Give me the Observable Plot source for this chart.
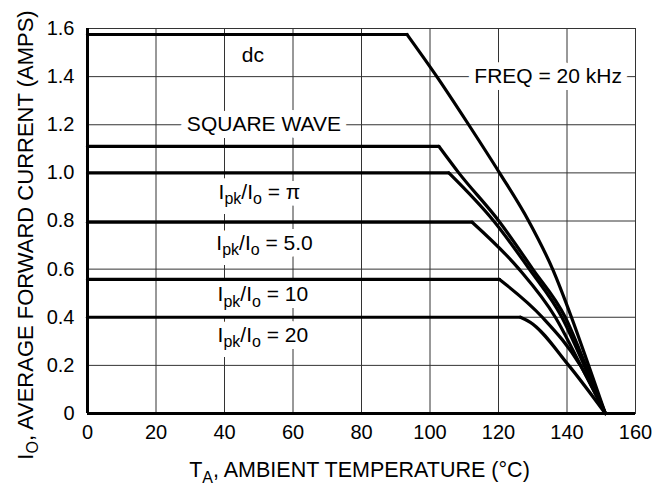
<!DOCTYPE html>
<html><head><meta charset="utf-8">
<script src="https://cdn.jsdelivr.net/npm/d3@7"></script>
<script src="https://cdn.jsdelivr.net/npm/@observablehq/plot@0.6"></script>
<style>body{margin:0;background:#fff}</style>
</head><body><div id="chart"></div>
<script>
// Derating curves: ambient temperature (°C) vs average forward current (A)
const dcT   = [0, 93.3, 102, 111.3, 120.3, 128.8, 135.8, 141.3, 146.3, 151.2];
const dcI   = [1.575, 1.575, 1.40, 1.20, 1.00, 0.80, 0.60, 0.40, 0.20, 0];
const sqT   = [0, 102.6, 108.4, 120.1, 130, 139.5, 145.5, 151.2];
const sqI   = [1.11, 1.11, 1.00, 0.80, 0.60, 0.40, 0.20, 0];
const piT   = [0, 105.5, 118.6, 129, 138.5, 145, 151.2];
const piI   = [1.00, 1.00, 0.80, 0.60, 0.40, 0.20, 0];
const r5T   = [0, 112.3, 126, 136.6, 144, 151.2];
const r5I   = [0.795, 0.795, 0.60, 0.40, 0.20, 0];
const r10T  = [0, 120.3, 132.8, 143.9, 151.2];
const r10I  = [0.557, 0.557, 0.40, 0.20, 0];
const r20T  = [0, 126.4, 129.3, 140.5, 151.2];
const r20I  = [0.40, 0.40, 0.379, 0.20, 0];

const xTicks = [0, 20, 40, 60, 80, 100, 120, 140, 160];
const yTicks = [0, 0.2, 0.4, 0.6, 0.8, 1.0, 1.2, 1.4, 1.6];

const labelText = ["dc", "SQUARE WAVE", "FREQ = 20 kHz", "I_{pk}/I_{o} = π", "I_{pk}/I_{o} = 5.0", "I_{pk}/I_{o} = 10", "I_{pk}/I_{o} = 20"];
const labelT    = [48.3, 51.5, 134.5, 50.2, 51.7, 51.2, 51.2];
const labelI    = [1.49, 1.20, 1.40, 0.92, 0.707, 0.494, 0.326];

const xTitle = "T_{A}, AMBIENT TEMPERATURE (°C)";
const yTitle = "I_{O}, AVERAGE FORWARD CURRENT (AMPS)";

const seriesList = [["dc", dcT, dcI], ["square", sqT, sqI], ["pi", piT, piI], ["5", r5T, r5I], ["10", r10T, r10I], ["20", r20T, r20I]];
const rows = seriesList.flatMap(([s, T, I]) => T.map((t, k) => ({series: s, k, t, i: I[k]})));
const flatRows = rows.filter(d => d.k <= 1);
const slopeRows = rows.filter(d => d.k >= 1);
const labels = labelText.map((text, k) => ({text, t: labelT[k], i: labelI[k]}));

const FS = 20, LFS = 21, TFS = 21.5;
const chart = Plot.plot({
  width: 658, height: 488,
  marginLeft: 87, marginRight: 23, marginTop: 28, marginBottom: 75,
  style: {fontFamily: "'Liberation Sans', Arial, Helvetica, sans-serif", fontSize: FS + "px", color: "#000", background: "#fff"},
  x: {domain: [0, 160]},
  y: {domain: [0, 1.6]},
  marks: [
    Plot.gridX({ticks: xTicks, stroke: "#333", strokeOpacity: 1, strokeWidth: 1}),
    Plot.gridY({ticks: yTicks, stroke: "#333", strokeOpacity: 1, strokeWidth: 1}),
    // halo layer
    Plot.text(labels, {x: "t", y: "i", text: "text", fill: "#fff", stroke: "#fff", strokeWidth: 14, fontSize: LFS}),
    // text layer
    Plot.text(labels, {x: "t", y: "i", text: "text", fill: "#000", fontSize: LFS}),
    Plot.line(flatRows, {x: "t", y: "i", z: "series", stroke: "#000", strokeWidth: 3.2}),
    Plot.line(slopeRows, {x: "t", y: "i", z: "series", stroke: "#000", strokeWidth: 3.2, curve: "monotone-x"}),
    Plot.frame({stroke: "#333", strokeWidth: 1}),
    Plot.ruleX([0], {stroke: "#000", strokeWidth: 3}),
    Plot.ruleY([0], {stroke: "#000", strokeWidth: 3}),
    Plot.axisX({ticks: xTicks, tickSize: 0, tickPadding: 11, label: null}),
    Plot.axisY({ticks: yTicks, tickSize: 0, tickPadding: 13, label: null, tickFormat: d => d === 0 ? "0" : d.toFixed(1)}),
    Plot.text([yTitle], {frameAnchor: "left", textAnchor: "middle", lineAnchor: "middle", rotate: -90, dx: -62, dy: 14, fontSize: 22, fill: "#000"}),
    Plot.text([xTitle], {frameAnchor: "bottom", textAnchor: "middle", lineAnchor: "middle", dy: 57, dx: -2, fontSize: TFS, fill: "#000"})
  ]
});

// subscripts
d3.select(chart).selectAll("text").each(function() {
  const t = this.textContent;
  if (!t.includes("_{")) return;
  const fs = parseFloat(getComputedStyle(this).fontSize) || parseFloat(this.getAttribute("font-size")) || FS;
  const sel = d3.select(this);
  sel.text(null);
  const parts = t.split(/(_\{[^}]*\})/).filter(p => p.length);
  let shifted = false;
  const sh = fs * 0.26;
  for (const p of parts) {
    const m = p.match(/^_\{([^}]*)\}$/);
    if (m) {
      sel.append("tspan").attr("dy", sh).attr("font-size", (fs * 0.8) + "px").text(m[1]);
      shifted = true;
    } else {
      const ts = sel.append("tspan").text(p);
      if (shifted) { ts.attr("dy", -sh); shifted = false; }
    }
  }
});

document.getElementById("chart").appendChild(chart);
</script>
</body></html>
